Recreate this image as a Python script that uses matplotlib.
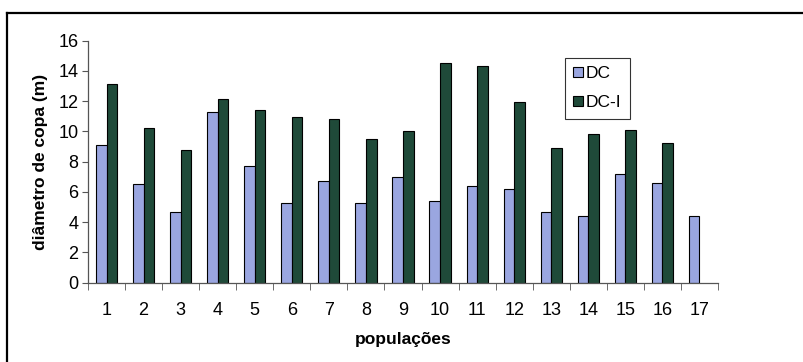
import numpy as np
import matplotlib
matplotlib.use("Agg")
import matplotlib.pyplot as plt
from matplotlib.lines import Line2D

plt.rcParams.update({
    "font.family": ["Liberation Sans", "DejaVu Sans"],
    "axes.spines.top": False, "axes.spines.right": False,
})

populacoes = [str(i) for i in range(1, 18)]
dc = [9.1, 6.5, 4.7, 11.3, 7.7, 5.3, 6.75, 5.3, 7.0, 5.4, 6.4, 6.2, 4.7, 4.4, 7.2, 6.6, 4.4]
dc_i = [13.1, 10.2, 8.8, 12.15, 11.4, 10.95, 10.8, 9.5, 10.0, 14.5, 14.35, 11.95, 8.9, 9.85, 10.1, 9.25, np.nan]
y_ticks = [0, 2, 4, 6, 8, 10, 12, 14, 16]

fig = plt.figure(figsize=(8.04, 3.62), dpi=100)
ax = fig.add_axes([0.1095, 0.219, 0.7835, 0.669])

xs = np.arange(len(populacoes))
w = 0.286
ax.bar(xs - w / 2, dc, width=w, color="#9aa6e0", edgecolor="black", linewidth=0.8, label="DC")
ax.bar(xs + w / 2, dc_i, width=w, color="#1f4a39", edgecolor="black", linewidth=0.8, label="DC-I")

ax.set_xlim(-0.5, len(populacoes) - 0.5)
ax.set_ylim(0, 16)
ax.set_yticks(y_ticks)
ax.set_xticks(xs)
ax.set_xticklabels(populacoes)
ax.set_xticks(np.arange(-0.5, len(populacoes)), minor=True)
ax.tick_params(axis="x", which="major", length=0, pad=14, labelsize=13)
ax.tick_params(axis="x", which="minor", length=5, direction="out", color="#555555")
ax.tick_params(axis="y", length=4, direction="out", labelsize=13, pad=3, color="#555555")
for s in ("left", "bottom"):
    ax.spines[s].set_color("#555555")
    ax.spines[s].set_linewidth(0.9)

ax.set_xlabel("populações", fontsize=12.5, fontweight="bold", labelpad=9)
ax.set_ylabel("diâmetro de copa (m)", fontsize=12.5, fontweight="bold", labelpad=7)

leg = ax.legend(loc="upper left", bbox_to_anchor=(0.743, 0.965), frameon=True, fancybox=False,
                edgecolor="black", fontsize=12.5, handlelength=0.55, handleheight=0.55,
                handletextpad=0.15, labelspacing=0.8, borderpad=0.5)
leg.get_frame().set_linewidth(0.8)

# outer chart-area frame (top and left edges)
fig.add_artist(Line2D([7 / 804, 1.0], [1 - 13 / 362, 1 - 13 / 362], transform=fig.transFigure,
                      color="black", linewidth=1.6))
fig.add_artist(Line2D([7 / 804, 7 / 804], [1 - 13 / 362, 0.0], transform=fig.transFigure,
                      color="black", linewidth=1.6))

fig.savefig("out.png", dpi=100)
